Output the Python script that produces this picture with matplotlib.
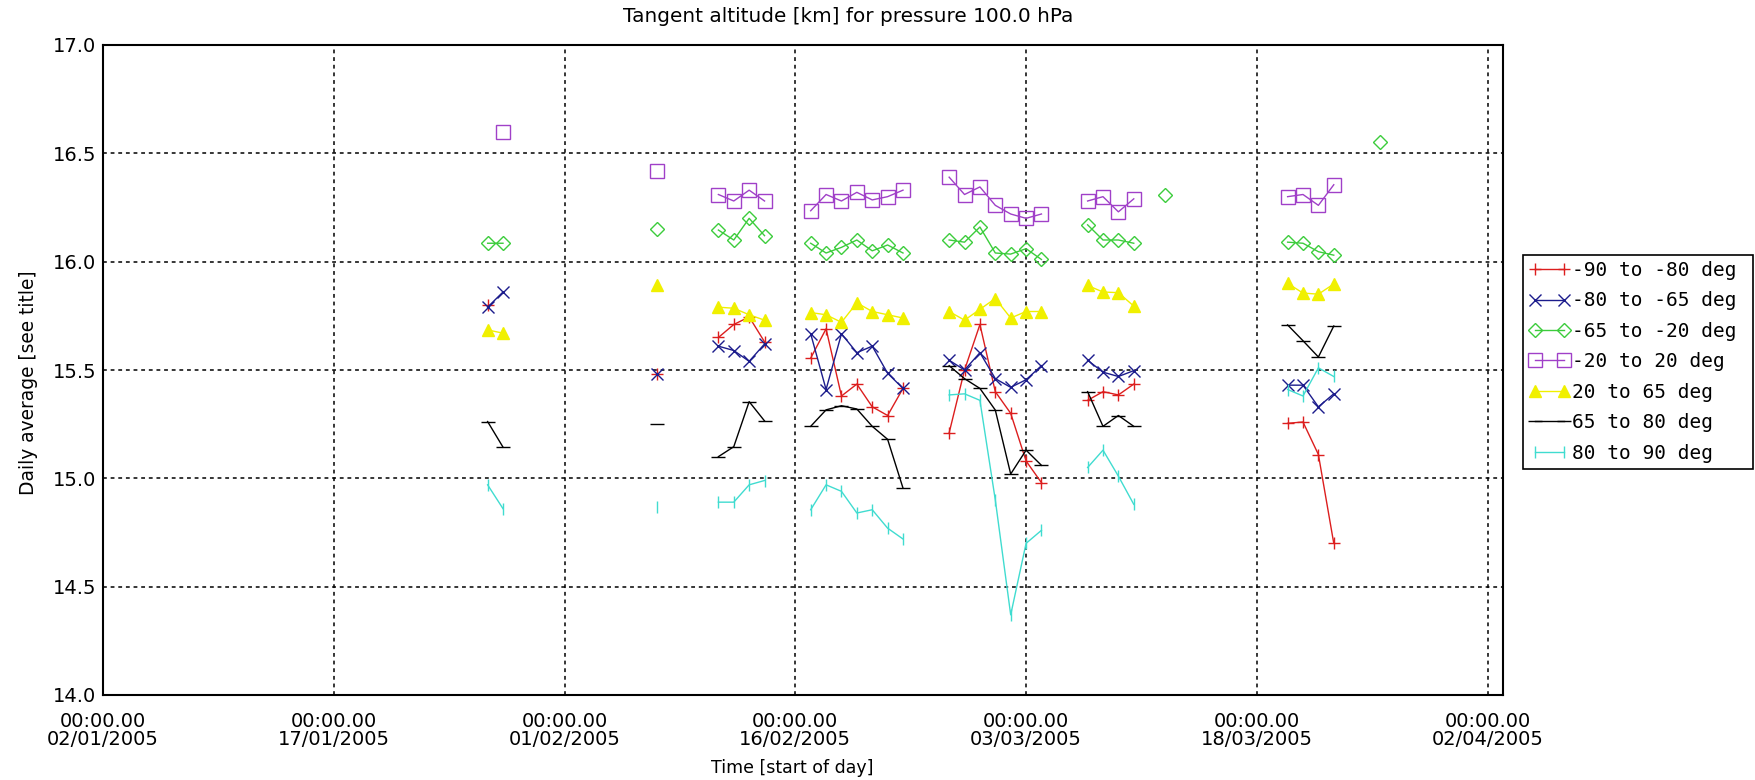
import matplotlib
matplotlib.use("Agg")
import matplotlib.pyplot as plt
import matplotlib.dates as mdates
import numpy as np
import datetime as dt

nan = np.nan

dates = ["2005-01-27", "2005-01-28", "2005-02-07",
         "2005-02-11", "2005-02-12", "2005-02-13", "2005-02-14",
         "2005-02-17", "2005-02-18", "2005-02-19", "2005-02-20", "2005-02-21", "2005-02-22", "2005-02-23",
         "2005-02-26", "2005-02-27", "2005-02-28", "2005-03-01", "2005-03-02", "2005-03-03", "2005-03-04",
         "2005-03-07", "2005-03-08", "2005-03-09", "2005-03-10", "2005-03-12",
         "2005-03-20", "2005-03-21", "2005-03-22", "2005-03-23", "2005-03-26"]

lat_m90_m80 = [15.80, nan, 15.48,
               15.65, 15.71, 15.745, 15.63,
               15.555, 15.69, 15.38, 15.435, 15.33, 15.29, 15.415,
               15.21, 15.50, 15.71, 15.40, 15.30, 15.08, 14.98,
               15.36, 15.40, 15.385, 15.435, nan,
               15.254, 15.26, 15.11, 14.70, nan]
lat_m80_m65 = [15.79, 15.86, 15.48,
               15.61, 15.59, 15.54, 15.62,
               15.667, 15.41, 15.667, 15.58, 15.61, 15.485, 15.415,
               15.545, 15.50, 15.58, 15.46, 15.42, 15.455, 15.52,
               15.545, 15.49, 15.47, 15.497, nan,
               15.43, 15.43, 15.33, 15.39, nan]
lat_m65_m20 = [16.085, 16.085, 16.15,
               16.146, 16.10, 16.20, 16.12,
               16.085, 16.04, 16.066, 16.10, 16.05, 16.077, 16.04,
               16.10, 16.09, 16.16, 16.04, 16.035, 16.06, 16.01,
               16.17, 16.10, 16.10, 16.085, 16.31,
               16.09, 16.085, 16.046, 16.03, 16.55]
lat_m20_20 = [nan, 16.60, 16.42,
              16.31, 16.28, 16.33, 16.28,
              16.235, 16.31, 16.28, 16.32, 16.285, 16.30, 16.33,
              16.39, 16.31, 16.345, 16.26, 16.22, 16.20, 16.22,
              16.28, 16.30, 16.23, 16.29, nan,
              16.30, 16.31, 16.26, 16.355, nan]
lat_20_65 = [15.685, 15.67, 15.89,
             15.79, 15.785, 15.755, 15.73,
             15.765, 15.755, 15.72, 15.81, 15.77, 15.755, 15.74,
             15.77, 15.73, 15.78, 15.83, 15.74, 15.77, 15.77,
             15.89, 15.86, 15.857, 15.795, nan,
             15.90, 15.855, 15.85, 15.897, nan]
lat_65_80 = [15.262, 15.144, 15.25,
             15.10, 15.146, 15.354, 15.265,
             15.24, 15.316, 15.335, 15.32, 15.24, 15.18, 14.955,
             15.52, 15.46, 15.415, 15.315, 15.02, 15.13, 15.06,
             15.40, 15.24, 15.29, 15.24, nan,
             15.708, 15.635, 15.56, 15.703, nan]
lat_80_90 = [14.97, 14.86, 14.87,
             14.89, 14.89, 14.97, 14.99,
             14.855, 14.97, 14.94, 14.84, 14.855, 14.77, 14.72,
             15.385, 15.39, 15.36, 14.90, 14.37, 14.70, 14.76,
             15.05, 15.13, 15.01, 14.88, nan,
             15.41, 15.38, 15.51, 15.47, nan]

labels = ["-90 to -80 deg", "-80 to -65 deg", "-65 to -20 deg", "-20 to 20 deg",
          "20 to 65 deg", "65 to 80 deg", "80 to 90 deg"]
series = [lat_m90_m80, lat_m80_m65, lat_m65_m20, lat_m20_20, lat_20_65, lat_65_80, lat_80_90]

tick_dates = ["2005-01-02", "2005-01-17", "2005-02-01", "2005-02-16",
              "2005-03-03", "2005-03-18", "2005-04-02"]
y_ticks = [14.0, 14.5, 15.0, 15.5, 16.0, 16.5, 17.0]

styles = [
    dict(color="#dc1e1e", marker="+", ms=9, mfc="none"),
    dict(color="#1c1c8c", marker="x", ms=8, mfc="none"),
    dict(color="#3ccc3c", marker="D", ms=7.5, mfc="none"),
    dict(color="#a040c8", marker="s", ms=10, mfc="none"),
    dict(color="#f0f000", marker="^", ms=9, mfc="#f0f000"),
    dict(color="black", marker="_", ms=10, mfc="none"),
    dict(color="#40dcd0", marker="|", ms=9, mfc="none"),
]

fig = plt.figure(figsize=(17.56, 7.80), dpi=100)
ax = fig.add_axes([103/1756, 85/780, 1400/1756, 650/780])

xd = np.array([mdates.date2num(dt.datetime.strptime(d, "%Y-%m-%d")) for d in dates])

for i, (vals, lab, st) in enumerate(zip(series, labels, styles)):
    v = np.array(vals, dtype=float)
    xs, ys = [], []
    for j in range(len(xd)):
        if j > 0 and xd[j] - xd[j-1] > 1.5:
            xs.append(np.nan); ys.append(np.nan)
        xs.append(xd[j]); ys.append(v[j])
    ax.plot(xs, ys, color=st["color"], marker=st["marker"], markersize=st["ms"],
            markerfacecolor=st["mfc"], markeredgecolor=st["color"], markeredgewidth=1.0,
            linewidth=1.0, label=lab, zorder=3 + i)

x0 = mdates.date2num(dt.datetime(2005, 1, 2))
x1 = mdates.date2num(dt.datetime(2005, 4, 3))
ax.set_xlim(x0, x1)
ax.set_ylim(14.0, 17.0)

tx = [mdates.date2num(dt.datetime.strptime(d, "%Y-%m-%d")) for d in tick_dates]
ax.set_xticks(tx)
ax.set_xticklabels(["00:00.00\n" + dt.datetime.strptime(d, "%Y-%m-%d").strftime("%d/%m/%Y")
                    for d in tick_dates], fontsize=14, linespacing=0.95)
ax.set_yticks(y_ticks)
ax.set_yticklabels(["%.1f" % t for t in y_ticks], fontsize=14)
ax.tick_params(axis="both", length=0, pad=5)
ax.tick_params(axis="x", pad=12)

ax.grid(True, color="black", linestyle=(0, (2.5, 2.5)), linewidth=1.1, zorder=1)
ax.set_axisbelow(True)
for s in ax.spines.values():
    s.set_linewidth(1.5)

fig.text(848/1756, 1 - 17/780, "Tangent altitude [km] for pressure 100.0 hPa",
         ha="center", va="center", fontsize=14.4)
fig.text(792/1756, 1 - 768/780, "Time [start of day]", ha="center", va="center", fontsize=12.5)
fig.text(29/1756, 1 - 383/780, "Daily average [see title]", ha="center", va="center",
         rotation=90, fontsize=13.4)

leg = fig.legend(loc="upper left",
                 bbox_to_anchor=(1523/1756, 1 - 465/780, 230/1756, 210/780),
                 mode="expand",
                 prop={"family": "DejaVu Sans Mono", "size": 14},
                 numpoints=2, handlelength=2.1, handletextpad=0.1,
                 labelspacing=0.59, borderpad=0.3, borderaxespad=0,
                 fancybox=False, framealpha=1, edgecolor="black")
leg.get_frame().set_linewidth(1.2)

fig.savefig("out.png", dpi=100)
